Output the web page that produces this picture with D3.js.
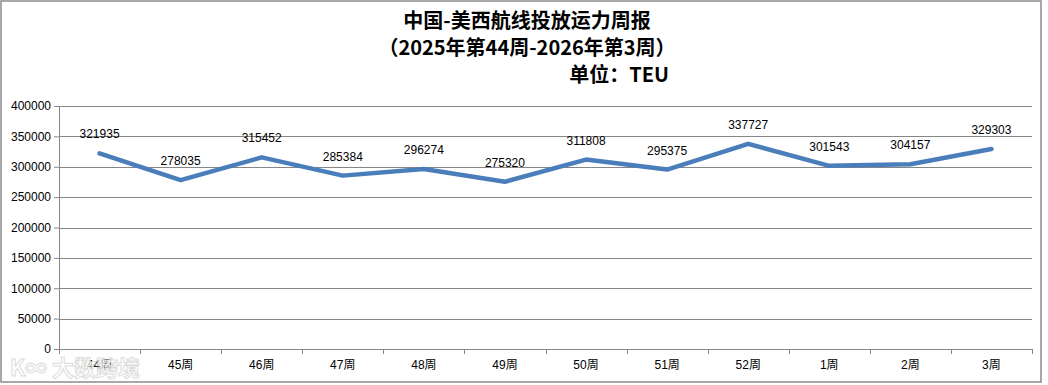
<html lang="zh">
<head>
<meta charset="UTF-8">
<title>中国-美西航线投放运力周报</title>
<style>
  body { margin: 0; background: #fff; }
  text { font-family: "Liberation Sans", "Noto Sans CJK SC", sans-serif; }
</style>
</head>
<body>
<div id="graph"></div>
<script src="https://d3js.org/d3.v7.min.js"></script>
<script>
    // data
    var weeks = ["44周", "45周", "46周", "47周", "48周", "49周", "50周", "51周", "52周", "1周", "2周", "3周"];
    var teu = [321935, 278035, 315452, 285384, 296274, 275320, 311808, 295375, 337727, 301543, 304157, 329303];
    var yTicks = [0, 50000, 100000, 150000, 200000, 250000, 300000, 350000, 400000];
    var titleLines = ["中国-美西航线投放运力周报", "（2025年第44周-2026年第3周）"];
    var unitLabel = "单位：TEU";

    var W = 1048, H = 385;
    var margin = { top: 106, right: 16, bottom: 36, left: 59 },
        width = 1032 - margin.left,
        height = 349 - margin.top;

    var svg = d3.select("#graph").append("svg")
        .attr("width", W)
        .attr("height", H);

    // outer frame
    svg.append("rect")
        .attr("x", 1).attr("y", 1)
        .attr("width", 1040).attr("height", 381)
        .attr("fill", "#fff")
        .attr("stroke", "#8c8c8c")
        .attr("stroke-width", 1.5);

    // titles
    svg.selectAll(".title")
        .data(titleLines)
        .enter().append("text")
        .attr("x", 527)
        .attr("y", function(d, i) { return 28 + i * 27; })
        .attr("text-anchor", "middle")
        .style("font-family", "'Noto Sans CJK SC', sans-serif")
        .style("font-weight", "bold")
        .style("font-size", "20px")
        .attr("fill", "#000")
        .text(function(d) { return d; });

    svg.append("text")
        .attr("x", 669)
        .attr("y", 82)
        .attr("text-anchor", "end")
        .style("font-family", "'Noto Sans CJK SC', sans-serif")
        .style("font-weight", "bold")
        .style("font-size", "20px")
        .text(unitLabel);

    var g = svg.append("g")
        .attr("transform", "translate(" + margin.left + "," + margin.top + ")");

    var x = d3.scaleBand().domain(weeks).range([0, width]);
    var y = d3.scaleLinear().domain([0, 400000]).range([height, 0]);

    // gridlines
    g.selectAll(".grid")
        .data(yTicks)
        .enter().append("line")
        .attr("x1", 0).attr("x2", width)
        .attr("y1", function(d) { return Math.round(y(d)) + 0.5; })
        .attr("y2", function(d) { return Math.round(y(d)) + 0.5; })
        .attr("stroke", "#868686")
        .attr("stroke-width", 1);

    // y axis
    var yAxis = g.append("g")
        .call(d3.axisLeft(y).tickValues(yTicks).tickFormat(d3.format("d")).tickSize(5).tickPadding(3));
    yAxis.select(".domain").attr("stroke", "#868686");
    yAxis.selectAll(".tick line").attr("stroke", "#868686");
    yAxis.selectAll("text").style("font-size", "12px").attr("fill", "#000");

    // x axis
    var xAxis = g.append("g")
        .attr("transform", "translate(0," + height + ")")
        .call(d3.axisBottom(x).tickSize(0).tickPadding(11));
    xAxis.select(".domain").attr("stroke", "#868686");
    xAxis.selectAll("text").style("font-size", "12px").attr("fill", "#000");

    // category boundary ticks
    g.selectAll(".xtick")
        .data(d3.range(weeks.length + 1))
        .enter().append("line")
        .attr("x1", function(i) { return Math.round(i * x.bandwidth()) + 0.5; })
        .attr("x2", function(i) { return Math.round(i * x.bandwidth()) + 0.5; })
        .attr("y1", height).attr("y2", height + 5)
        .attr("stroke", "#868686");

    // line
    var line = d3.line()
        .x(function(d, i) { return x(weeks[i]) + x.bandwidth() / 2; })
        .y(function(d) { return y(d); });

    g.append("path")
        .datum(teu)
        .attr("fill", "none")
        .attr("stroke", "#4a7ebb")
        .attr("stroke-width", 4.5)
        .attr("stroke-linejoin", "round")
        .attr("stroke-linecap", "round")
        .attr("d", line);

    // labels
    g.selectAll(".lbl")
        .data(teu)
        .enter().append("text")
        .attr("x", function(d, i) { return x(weeks[i]) + x.bandwidth() / 2; })
        .attr("y", function(d) { return y(d) - 15; })
        .attr("text-anchor", "middle")
        .style("font-size", "12px")
        .attr("fill", "#000")
        .text(function(d) { return d; });

    // watermark
    svg.append("text")
        .attr("x", 10)
        .attr("y", 376)
        .style("font-family", "'Noto Sans CJK SC', sans-serif")
        .style("font-size", "22px")
        .style("font-weight", "bold")
        .attr("fill", "#fff")
        .attr("stroke", "#d4d4d4")
        .attr("stroke-width", 1)
        .attr("opacity", 0.8)
        .text("K∞ 大数跨境");
</script>
</body>
</html>
